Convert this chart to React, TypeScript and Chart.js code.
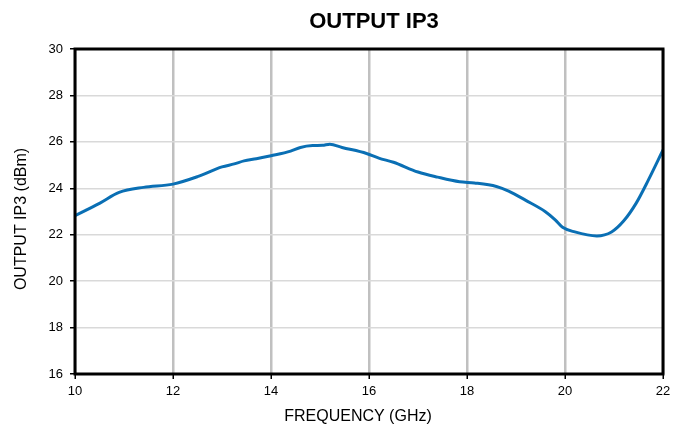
import React, { useEffect, useRef } from "react";
import { Chart, registerables } from "chart.js";

Chart.register(...registerables);

const frequencyGHz = [
  10.0, 10.5, 10.9, 11.4, 12.0, 12.5, 13.0, 13.25, 13.45, 13.7, 14.0, 14.4, 14.6,
  14.85, 15.05, 15.2, 15.45, 15.95, 16.2, 16.5, 17.0, 17.4, 17.85, 18.15, 18.6,
  18.85, 19.2, 19.6, 19.8, 19.95, 20.2, 20.65, 20.95, 21.2, 21.45, 21.7, 22.0,
];
const outputIP3 = [
  22.82, 23.35, 23.82, 24.04, 24.18, 24.5, 24.92, 25.05, 25.18, 25.27, 25.4, 25.6,
  25.76, 25.84, 25.85, 25.9, 25.76, 25.5, 25.3, 25.12, 24.7, 24.48, 24.28, 24.23,
  24.08, 23.88, 23.48, 22.99, 22.64, 22.32, 22.12, 21.95, 22.12, 22.6, 23.35, 24.35,
  25.65,
];
const xTicks = [10, 12, 14, 16, 18, 20, 22];
const yTicks = [16, 18, 20, 22, 24, 26, 28, 30];

const chartTitle = "OUTPUT IP3";
const xTitle = "FREQUENCY (GHz)";
const yTitle = "OUTPUT IP3 (dBm)";

const FONT = "'Liberation Sans', Arial, sans-serif";

const framePlugin = {
  id: "frameAndTitles",
  afterDatasetsDraw(chart: any) {
    const { ctx, chartArea } = chart;
    const { left, right, top, bottom } = chartArea;
    ctx.save();
    ctx.strokeStyle = "#000";
    ctx.lineWidth = 3;
    ctx.strokeRect(left, top, right - left, bottom - top);
    ctx.restore();
  },
  afterDraw(chart: any) {
    const { ctx } = chart;
    ctx.save();
    ctx.fillStyle = "#000";
    ctx.textAlign = "center";
    ctx.textBaseline = "middle";
    ctx.font = `bold 22px ${FONT}`;
    ctx.fillText(chartTitle, 374, 22);
    ctx.font = `16px ${FONT}`;
    ctx.fillText(xTitle, 358, 417);
    ctx.translate(21.5, 219);
    ctx.rotate(-Math.PI / 2);
    ctx.fillText(yTitle, 0, 0);
    ctx.restore();
  },
};

export default function App() {
  const canvasRef = useRef<HTMLCanvasElement | null>(null);

  useEffect(() => {
    if (!canvasRef.current) return;
    const data = frequencyGHz.map((x, i) => ({ x, y: outputIP3[i] }));
    const chart = new Chart(canvasRef.current, {
      type: "line",
      data: {
        datasets: [
          {
            data,
            borderColor: "#0a6fb4",
            borderWidth: 3,
            pointRadius: 0,
            fill: false,
            cubicInterpolationMode: "monotone",
          },
        ],
      },
      options: {
        animation: false,
        responsive: true,
        maintainAspectRatio: false,
        layout: { padding: { top: 49, right: 19, left: 0, bottom: 0 } },
        plugins: {
          legend: { display: false },
          title: { display: false },
          tooltip: { enabled: false },
        },
        scales: {
          x: {
            type: "linear",
            min: 10,
            max: 22,
            afterBuildTicks: (scale: any) => {
              scale.ticks = xTicks.map((v) => ({ value: v }));
            },
            afterFit: (scale: any) => {
              scale.height = 54;
            },
            border: { display: false },
            grid: {
              color: "#c0c0c0",
              lineWidth: 2.5,
              drawTicks: true,
              tickLength: 5,
              tickColor: "#000",
              tickWidth: 1.5,
            },
            ticks: {
              color: "#000",
              font: { family: FONT, size: 13 },
              padding: 5,
              maxRotation: 0,
            },
          },
          y: {
            type: "linear",
            min: 16,
            max: 30,
            afterBuildTicks: (scale: any) => {
              scale.ticks = yTicks.map((v) => ({ value: v }));
            },
            afterFit: (scale: any) => {
              scale.width = 75;
            },
            border: { display: false },
            grid: {
              color: "#d9d9d9",
              lineWidth: 1.5,
              drawTicks: true,
              tickLength: 5,
              tickColor: "#000",
              tickWidth: 1.5,
            },
            ticks: {
              color: "#000",
              font: { family: FONT, size: 13 },
              padding: 7,
            },
          },
        },
      },
      plugins: [framePlugin],
    });
    return () => chart.destroy();
  }, []);

  return (
    <div style={{ position: "fixed", left: 0, top: 0, width: 682, height: 428, background: "#fff" }}>
      <canvas ref={canvasRef} />
    </div>
  );
}
